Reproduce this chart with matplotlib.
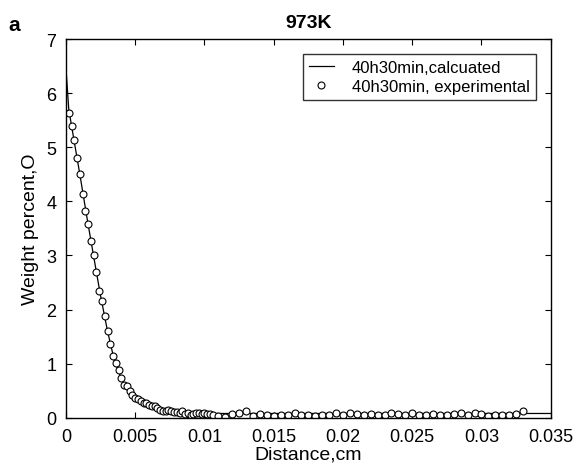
import matplotlib
matplotlib.use("Agg")
import matplotlib.pyplot as plt

plt.rcParams['font.family'] = ['Liberation Sans', 'DejaVu Sans']

# curva calculada (40h30min)
calc_x = [0.0, 0.0002, 0.0005, 0.001, 0.0015, 0.002, 0.0025, 0.003, 0.0035,
          0.004, 0.0045, 0.005, 0.0055, 0.006, 0.007, 0.008, 0.009, 0.01, 0.035]
calc_y = [6.45, 5.70, 5.25, 4.50, 3.72, 2.98, 2.25, 1.60, 1.05,
          0.72, 0.50, 0.36, 0.28, 0.22, 0.15, 0.11, 0.09, 0.08, 0.08]

# pontos experimentais
exp_x = [0.0002, 0.0004, 0.0006, 0.0008, 0.0010, 0.0012, 0.0014, 0.0016, 0.0018, 0.0020,
         0.0022, 0.0024, 0.0026, 0.0028, 0.0030, 0.0032, 0.0034, 0.0036, 0.0038, 0.0040,
         0.0042, 0.0044, 0.0046, 0.0048, 0.0050, 0.0052, 0.0054, 0.0056, 0.0058, 0.0060,
         0.0062, 0.0064, 0.0066, 0.0068, 0.0070, 0.0072, 0.0074, 0.0076, 0.0078, 0.0080,
         0.0082, 0.0084, 0.0086, 0.0088, 0.0090, 0.0092, 0.0094, 0.0096, 0.0098, 0.0100,
         0.0102, 0.0104, 0.0106,
         0.0110, 0.0115, 0.0120, 0.0125, 0.0130, 0.0135, 0.0140, 0.0145, 0.0150, 0.0155,
         0.0160, 0.0165, 0.0170, 0.0175, 0.0180, 0.0185, 0.0190, 0.0195, 0.0200, 0.0205,
         0.0210, 0.0215, 0.0220, 0.0225, 0.0230, 0.0235, 0.0240, 0.0245, 0.0250, 0.0255,
         0.0260, 0.0265, 0.0270, 0.0275, 0.0280, 0.0285, 0.0290, 0.0295, 0.0300, 0.0305,
         0.0310, 0.0315, 0.0320, 0.0325, 0.0330]
exp_y = [5.63, 5.39, 5.13, 4.80, 4.50, 4.14, 3.83, 3.59, 3.27, 3.00,
         2.70, 2.35, 2.16, 1.89, 1.61, 1.37, 1.14, 1.02, 0.88, 0.74,
         0.60, 0.59, 0.50, 0.42, 0.36, 0.35, 0.31, 0.28, 0.27, 0.24,
         0.22, 0.21, 0.19, 0.15, 0.13, 0.12, 0.14, 0.12, 0.10, 0.11,
         0.08, 0.12, 0.07, 0.08, 0.06, 0.07, 0.08, 0.08, 0.07, 0.08,
         0.07, 0.07, 0.05,
         0.03, 0.02, 0.07, 0.08, 0.12, 0.04, 0.07, 0.05, 0.04, 0.06,
         0.06, 0.08, 0.06, 0.05, 0.03, 0.06, 0.05, 0.09, 0.05, 0.08,
         0.07, 0.06, 0.07, 0.05, 0.06, 0.08, 0.07, 0.06, 0.08, 0.06,
         0.05, 0.07, 0.06, 0.06, 0.07, 0.08, 0.06, 0.08, 0.07, 0.03,
         0.05, 0.05, 0.06, 0.07, 0.12]

x_ticks = [0, 0.005, 0.01, 0.015, 0.02, 0.025, 0.03, 0.035]
x_tick_labels = ['0', '0.005', '0.01', '0.015', '0.02', '0.025', '0.03', '0.035']
y_ticks = [0, 1, 2, 3, 4, 5, 6, 7]

fig = plt.figure(figsize=(5.84, 4.77), dpi=100)
ax = fig.add_axes([0.113, 0.122, 0.830, 0.794])

ax.plot(calc_x, calc_y, color='black', linewidth=0.9, label='40h30min,calcuated')
ax.plot(exp_x, exp_y, linestyle='none', marker='o', markersize=5,
        markerfacecolor='white', markeredgecolor='black', markeredgewidth=0.8,
        label='40h30min, experimental')

ax.set_xlim(0, 0.035)
ax.set_ylim(0, 7)
ax.set_xticks(x_ticks)
ax.set_xticklabels(x_tick_labels)
ax.set_yticks(y_ticks)
ax.tick_params(direction='in', top=True, right=True, labelsize=13, length=4, width=0.8, pad=7)
for s in ax.spines.values():
    s.set_linewidth(1.0)

ax.set_xlabel('Distance,cm', fontsize=14, labelpad=1)
ax.set_ylabel('Weight percent,O', fontsize=14, labelpad=5)
ax.set_title('973K', fontsize=14, fontweight='bold', pad=9)
fig.text(0.015, 0.935, 'a', fontsize=15, fontweight='bold')

# legenda no canto superior direito
leg = ax.legend(loc='upper right', fontsize=12, frameon=True, fancybox=False,
                edgecolor='black', borderaxespad=0.9, handlelength=1.5,
                borderpad=0.35, labelspacing=0.25, handletextpad=1.1)
leg.get_frame().set_linewidth(1.0)

fig.savefig('out.png', dpi=100)
